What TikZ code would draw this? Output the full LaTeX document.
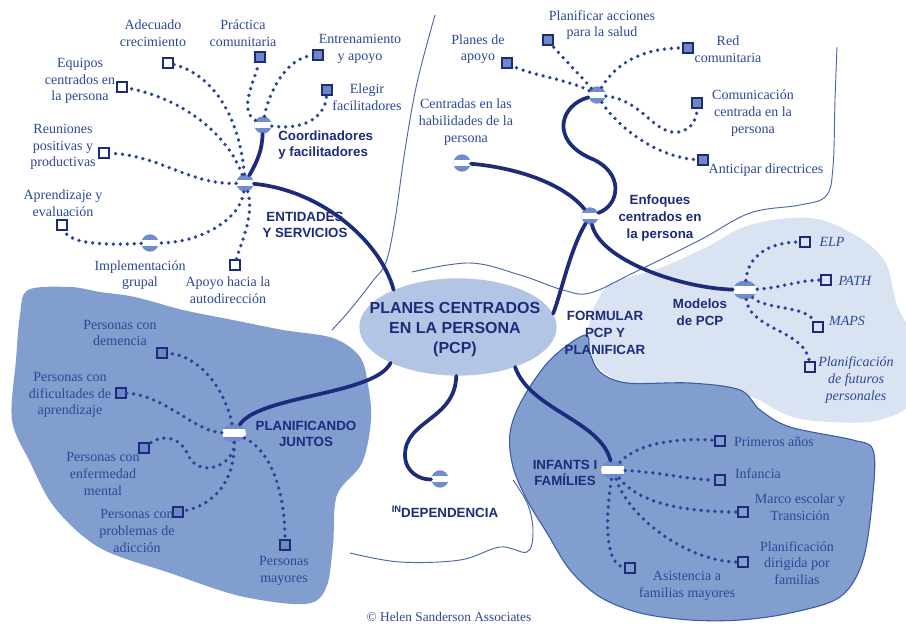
\documentclass[tikz,border=0pt]{standalone}
\usepackage{fontspec}
\setmainfont{Liberation Serif}
\setsansfont{Liberation Sans}
\usetikzlibrary{shapes.geometric}
\definecolor{navy}{HTML}{1C2C7A}
\definecolor{txtblue}{HTML}{2C4898}
\definecolor{dotblue}{HTML}{27439A}
\definecolor{darkreg}{HTML}{819ECF}
\definecolor{darkedge}{HTML}{3C5AA8}
\definecolor{lightreg}{HTML}{D9E3F2}
\definecolor{ellfill}{HTML}{B3C5E4}
\definecolor{thinline}{HTML}{4C66AA}
\definecolor{hubblue}{HTML}{6F8CCC}
\definecolor{sqfill}{HTML}{6D88C4}
\tikzset{
  lab/.style={font=\fontsize{10.5}{12.5}\selectfont, text=txtblue, align=center, inner sep=0pt},
  labit/.style={lab, font=\fontsize{10.5}{12.5}\selectfont\itshape},
  bold/.style={font=\sffamily\bfseries\fontsize{10}{12.5}\selectfont, text=navy, align=center, inner sep=0pt},
  hub/.style={circle, minimum size=13pt, inner sep=0pt,
    path picture={\fill[hubblue] (path picture bounding box.south west) rectangle (path picture bounding box.north east);
      \fill[white] ([yshift=-2.3pt]path picture bounding box.west) rectangle ([yshift=2.3pt]path picture bounding box.east);}},
  hubw/.style={ellipse, minimum width=18pt, minimum height=14pt, inner sep=0pt,
    path picture={\fill[hubblue] (path picture bounding box.south west) rectangle (path picture bounding box.north east);
      \fill[white] ([yshift=-3.2pt]path picture bounding box.west) rectangle ([yshift=3.2pt]path picture bounding box.east);}},
  leaf/.style={rectangle, draw=navy, line width=1.4pt, minimum size=7pt, inner sep=0pt},
  leaff/.style={leaf, fill=sqfill},
  dotline/.style={dotblue, line width=2.8pt, dash pattern=on 0pt off 5.2pt, line cap=round},
  thickline/.style={navy, line width=2.8pt, line cap=round},
  thin/.style={thinline, line width=0.7pt},
}
\begin{document}
\begin{tikzpicture}[x=0.75pt, y=-0.75pt]
\useasboundingbox (0,0) rectangle (906,627);
\fill[white] (0,0) rectangle (906,627);

% regions
\fill[lightreg] plot[smooth cycle, tension=0.6] coordinates {(598,300) (612,283) (660,268) (705,248) (750,225) (810,218) (855,235) (885,262) (897,305) (915,345) (915,398) (880,420) (830,422) (790,416) (750,396) (700,383) (640,387) (605,373) (590,350) (590,320)};
\fill[darkreg] plot[smooth cycle, tension=0.55] coordinates {(28,290) (70,287) (100,292) (135,297) (183,310) (233,320) (283,330) (333,338) (360,357) (368,385) (371,420) (362,463) (337,495) (333,545) (326,588) (305,604) (240,596) (170,573) (100,548) (55,508) (30,462) (12,420) (16,360) (20,315)};
\filldraw[fill=darkreg, draw=darkedge, line width=0.8pt] plot[smooth cycle, tension=0.55] coordinates {(585,335) (550,360) (522,400) (510,433) (513,467) (527,500) (547,533) (570,570) (600,597) (640,613) (690,620) (740,620) (790,613) (840,597) (863,560) (873,493) (873,450) (853,440) (790,427) (760,410) (740,390) (690,383) (627,383) (600,372) (590,353)};

% thin boundary lines
\draw[thin] plot[smooth, tension=0.6] coordinates {(435,15) (417,83) (405,150) (395,220) (386,262) (372,282) (350,310) (332,330)};
\draw[thin] plot[smooth, tension=0.6] coordinates {(412,272) (470,263) (520,275) (563,290) (590,293) (633,273) (700,240) (750,213) (800,205) (826,196) (833,167) (835,100) (837,47)};
\draw[thin] plot[smooth, tension=0.6] coordinates {(513,480) (528,505) (533,532) (527,552) (500,547) (460,560) (400,562) (350,553)};

% centre
\node[ellipse, fill=ellfill, minimum width=148pt, minimum height=73pt, inner sep=0pt] (pcp) at (458,327) {};
\node[font=\sffamily\bfseries\fontsize{12}{15}\selectfont, text=navy, align=center, inner sep=0pt] (pcptxt) at (455,330) {PLANES CENTRADOS\\EN LA PERSONA\\(PCP)};

% hubs
\node[hub] (ent) at (245,183) {};
\node[hub] (coo) at (263,125) {};
\node[hub] (imp) at (150,243) {};
\node[hub] (enf) at (590,216) {};
\node[hub] (cen) at (462,163) {};
\node[hub] (pla) at (597,95) {};
\node[hubw] (mod) at (745,290) {};
\node[hubw] (pju) at (234,433) {};
\node[hubw] (inf) at (613,470) {};
\node[hub] (ind) at (440,479) {};

% leaves
\node[leaff] (prac) at (260,57) {};
\node[leaff] (entr) at (318,55) {};
\node[leaff] (eleg) at (327,90) {};
\node[leaf] (adec) at (168,63) {};
\node[leaf] (equi) at (122,87) {};
\node[leaf] (reun) at (104,153) {};
\node[leaf] (apre) at (62,225) {};
\node[leaf] (apoy) at (235,265) {};
\node[leaff] (plac) at (548,40) {};
\node[leaff] (plap) at (507,63) {};
\node[leaff] (red) at (688,48) {};
\node[leaff] (comu) at (697,103) {};
\node[leaff] (anti) at (703,160) {};
\node[leaf] (elp) at (805,242) {};
\node[leaf] (path) at (826,280) {};
\node[leaf] (maps) at (818,327) {};
\node[leaf] (plfu) at (810,367) {};
\node[leaff] (dem) at (162,353) {};
\node[leaff] (dif) at (121,393) {};
\node[leaff] (enm) at (144,448) {};
\node[leaff] (adi) at (178,512) {};
\node[leaff] (may) at (285,545) {};
\node[leaf] (prim) at (720,441) {};
\node[leaf] (infa) at (720,480) {};
\node[leaf] (marc) at (743,512) {};
\node[leaf] (pdir) at (743,562) {};
\node[leaf] (asis) at (630,568) {};

% labels
\node[lab] (tadec) at (153,33) {Adecuado\\crecimiento};
\node[lab] (tprac) at (243,33) {Práctica\\comunitaria};
\node[lab] (tentr) at (360,49) {Entrenamiento\\y apoyo};
\node[lab] (teleg) at (367,97) {Elegir\\facilitadores};
\node[lab] (tequi) at (80,81) {Equipos\\centrados en\\la persona};
\node[lab] (treun) at (63,147) {Reuniones\\positivas y\\productivas};
\node[lab] (tapre) at (63,203) {Aprendizaje y\\evaluación};
\node[lab] (timp) at (140,275) {Implementación\\grupal};
\node[lab] (tapoy) at (228,290) {Apoyo hacia la\\autodirección};
\node[bold, anchor=west, align=left] (tcoo) at (278,145) {Coordinadores\\y facilitadores};
\node[bold] (tent) at (305,225) {ENTIDADES\\Y SERVICIOS};
\node[lab] (tplac) at (602,25) {Planificar acciones\\para la salud};
\node[lab] (tplap) at (478,49) {Planes de\\apoyo};
\node[lab] (tred) at (728,49) {Red\\comunitaria};
\node[lab] (tcomu) at (753,113) {Comunicación\\centrada en la\\persona};
\node[lab] (tanti) at (766,170) {Anticipar directrices};
\node[lab] (tcen) at (466,122) {Centradas en las\\habilidades de la\\persona};
\node[bold] (tenf) at (660,218) {Enfoques\\centrados en\\la persona};
\node[bold] (tmod) at (700,312) {Modelos\\de PCP};
\node[bold] (tform) at (605,333) {FORMULAR\\PCP Y\\PLANIFICAR};
\node[labit] (telp) at (832,242) {ELP};
\node[labit] (tpath) at (855,281) {PATH};
\node[labit] (tmaps) at (847,321) {MAPS};
\node[labit] (tplfu) at (856,380) {Planificación\\de futuros\\personales};
\node[lab] (tdem) at (120,333) {Personas con\\demencia};
\node[lab] (tdif) at (70,395) {Personas con\\dificultades de\\aprendizaje};
\node[lab] (tenm) at (103,474) {Personas con\\enfermedad\\mental};
\node[lab] (tadi) at (137,531) {Personas con\\problemas de\\adicción};
\node[lab] (tmay) at (284,571) {Personas\\mayores};
\node[bold] (tpju) at (306,434) {PLANIFICANDO\\JUNTOS};
\node[lab] (tprim) at (774,442) {Primeros años};
\node[lab] (tinfa) at (758,474) {Infancia};
\node[lab] (tmarc) at (800,507) {Marco escolar y\\Transición};
\node[lab] (tpdir) at (797,563) {Planificación\\dirigida por\\familias};
\node[lab] (tasis) at (687,586) {Asistencia a\\familias mayores};
\node[bold] (tinf) at (565,473) {INFANTS I\\FAMÍLIES};
\node[bold] (tind) at (445,512) {\raisebox{3.5pt}{\fontsize{7}{7}\selectfont IN}DEPENDENCIA};
\node[lab, font=\fontsize{10}{12}\selectfont] (copy) at (449,617) {© Helen Sanderson Associates};

% thick connectors
\draw[thickline] (pcp.150) .. controls (380,240) and (320,190) .. (ent);
\draw[thickline] (ent) .. controls (258,160) and (262,150) .. (coo);
\draw[thickline] (pcp.8) .. controls (562,290) and (570,250) .. (enf);
\draw[thickline] (cen) .. controls (520,168) and (565,185) .. (enf);
\draw[thickline] (pla) .. controls (560,105) and (550,140) .. (590,158) .. controls (625,172) and (620,205) .. (enf);
\draw[thickline] (enf) .. controls (600,260) and (680,288) .. (mod);
\draw[thickline] (pcp.-35) .. controls (530,410) and (600,420) .. (inf);
\draw[thickline] (pcp.208) .. controls (375,395) and (260,395) .. (pju);
\draw[thickline] (pcp.268) .. controls (455,420) and (405,420) .. (405,455) .. controls (405,472) and (420,480) .. (ind);

% dotted connectors
\draw[dotline] (coo) .. controls (238,110) and (255,80) .. (prac);
\draw[dotline] (coo) .. controls (268,95) and (285,58) .. (entr);
\draw[dotline] (coo) .. controls (300,130) and (325,120) .. (eleg);
\draw[dotline] (ent) .. controls (240,120) and (215,75) .. (adec);
\draw[dotline] (ent) .. controls (230,140) and (190,100) .. (equi);
\draw[dotline] (ent) .. controls (190,185) and (160,155) .. (reun);
\draw[dotline] (ent) .. controls (240,220) and (200,243) .. (imp);
\draw[dotline] (imp) .. controls (110,245) and (70,245) .. (apre);
\draw[dotline] (ent) .. controls (255,215) and (240,245) .. (apoy);

\draw[dotline] (pla) .. controls (580,75) and (560,55) .. (plac);
\draw[dotline] (pla) .. controls (570,80) and (530,75) .. (plap);
\draw[dotline] (pla) .. controls (615,65) and (640,48) .. (red);
\draw[dotline] (pla) .. controls (640,100) and (650,128) .. (672,132) .. controls (690,134) and (697,120) .. (comu);
\draw[dotline] (pla) .. controls (620,130) and (660,158) .. (anti);

\draw[dotline] (mod) .. controls (748,255) and (770,242) .. (elp);
\draw[dotline] (mod) .. controls (780,288) and (800,280) .. (path);
\draw[dotline] (mod) .. controls (765,310) and (805,305) .. (maps);
\draw[dotline] (mod) .. controls (750,330) and (805,330) .. (plfu);

\draw[dotline] (inf) .. controls (640,440) and (690,438) .. (prim);
\draw[dotline] (inf) .. controls (660,472) and (690,480) .. (infa);
\draw[dotline] (inf) .. controls (640,505) and (690,512) .. (marc);
\draw[dotline] (inf) .. controls (630,520) and (690,562) .. (pdir);
\draw[dotline] (inf) .. controls (605,520) and (605,565) .. (asis);

\draw[dotline] (pju) .. controls (225,390) and (200,355) .. (dem);
\draw[dotline] (pju) .. controls (195,432) and (165,395) .. (dif);
\draw[dotline] (pju) .. controls (235,465) and (200,480) .. (188,455) .. controls (180,435) and (160,435) .. (enm);
\draw[dotline] (pju) .. controls (235,480) and (215,505) .. (adi);
\draw[dotline] (pju) .. controls (270,450) and (285,490) .. (may);
\end{tikzpicture}
\end{document}
